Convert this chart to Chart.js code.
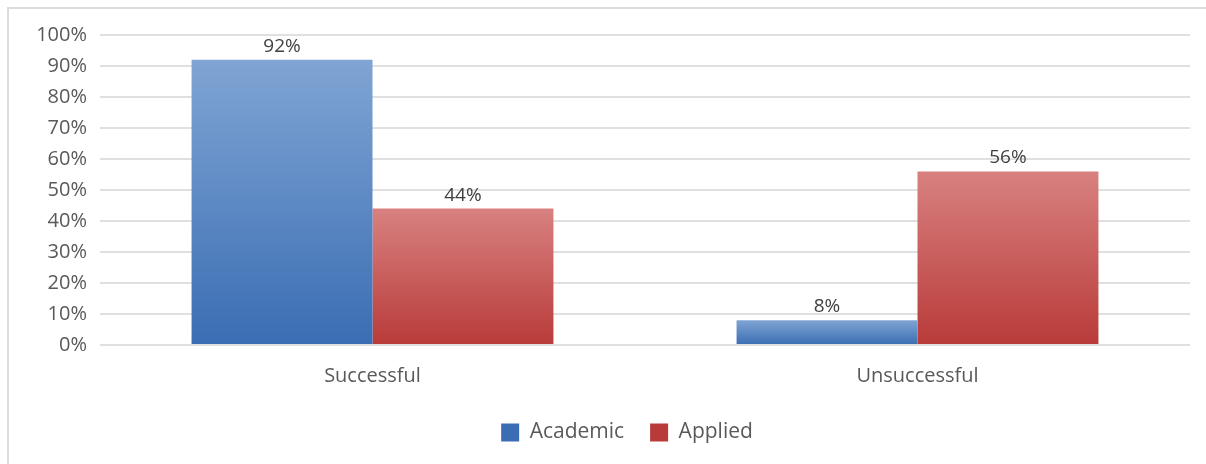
<!DOCTYPE html>
<html>
<head>
<meta charset="utf-8">
<script src="https://cdn.jsdelivr.net/npm/chart.js@4/dist/chart.umd.min.js"></script>
<style>
  html, body { margin: 0; padding: 0; background: #ffffff; }
  #wrap { width: 1206px; height: 464px; position: relative; }
</style>
</head>
<body>
<div id="wrap"><canvas id="c" width="1206" height="464"></canvas></div>
<script>
const categories = ["Successful", "Unsuccessful"];
const seriesNames = ["Academic", "Applied"];
const academicValues = [0.92, 0.08];
const appliedValues = [0.44, 0.56];
const yTickValues = [0, 0.1, 0.2, 0.3, 0.4, 0.5, 0.6, 0.7, 0.8, 0.9, 1.0];

const FONT = "'Open Sans', 'Noto Sans', sans-serif";
const TEXT = "#595959";

const palettes = [
  { top: "#80a5d4", bottom: "#3a6db3" },
  { top: "#d88180", bottom: "#b83b39" }
];

function barGradient(pal) {
  return function (ctx) {
    const chart = ctx.chart;
    const area = chart.chartArea;
    if (!area || ctx.type !== "data") return pal.bottom;
    const y = chart.scales.y;
    const v = ctx.raw;
    const top = y.getPixelForValue(v);
    const bot = y.getPixelForValue(0);
    if (!isFinite(top) || !isFinite(bot) || Math.abs(bot - top) < 1) return pal.bottom;
    const g = chart.ctx.createLinearGradient(0, top, 0, bot);
    g.addColorStop(0, pal.top);
    g.addColorStop(1, pal.bottom);
    return g;
  };
}

const framePlugin = {
  id: "frame",
  beforeDraw(chart) {
    const c = chart.ctx;
    c.save();
    c.fillStyle = "#ffffff";
    c.fillRect(0, 0, chart.width, chart.height);
    c.strokeStyle = "#dcdcdc";
    c.lineWidth = 2;
    c.beginPath();
    c.moveTo(8, chart.height);
    c.lineTo(8, 8);
    c.lineTo(chart.width, 8);
    c.stroke();
    c.restore();
  }
};

const legendShiftPlugin = {
  id: "legendShift",
  afterLayout(chart) {
    const lg = chart.legend;
    if (lg) {
      lg.left += 32;
      lg.right += 32;
      lg.top -= 1;
      lg.bottom -= 1;
    }
  }
};

const valueLabelPlugin = {
  id: "valueLabels",
  afterDatasetsDraw(chart) {
    const c = chart.ctx;
    c.save();
    c.font = "19px " + FONT;
    c.fillStyle = "#404040";
    c.textAlign = "center";
    c.textBaseline = "bottom";
    chart.data.datasets.forEach((ds, i) => {
      const meta = chart.getDatasetMeta(i);
      meta.data.forEach((bar, j) => {
        const v = ds.data[j];
        c.fillText(Math.round(v * 100) + "%", bar.x, bar.y - 4);
      });
    });
    c.restore();
  }
};

new Chart(document.getElementById("c"), {
  type: "bar",
  data: {
    labels: categories,
    datasets: [
      { label: seriesNames[0], data: academicValues, backgroundColor: barGradient(palettes[0]), borderWidth: 0 },
      { label: seriesNames[1], data: appliedValues, backgroundColor: barGradient(palettes[1]), borderWidth: 0 }
    ]
  },
  options: {
    responsive: false,
    animation: false,
    devicePixelRatio: 1,
    layout: { padding: { top: 35, right: 16, left: 0, bottom: 10 } },
    datasets: { bar: { categoryPercentage: 0.664, barPercentage: 1.0 } },
    scales: {
      x: {
        grid: { display: false },
        border: { display: false },
        ticks: { color: TEXT, font: { family: FONT, size: 20 }, padding: 11 },
        afterFit(scale) { scale.height = 52; }
      },
      y: {
        min: 0,
        max: 1,
        afterBuildTicks(scale) { scale.ticks = yTickValues.map(v => ({ value: v })); },
        grid: { color: "#e0e0e0", lineWidth: 2, drawTicks: false },
        border: { display: false },
        ticks: {
          color: TEXT,
          font: { family: FONT, size: 20 },
          padding: 13,
          callback: (v) => Math.round(v * 100) + "%"
        },
        afterFit(scale) { scale.width = 100; }
      }
    },
    plugins: {
      tooltip: { enabled: false },
      legend: {
        position: "bottom",
        labels: {
          color: TEXT,
          font: { family: FONT, size: 21 },
          boxWidth: 18,
          boxHeight: 18,
          padding: 26,
          generateLabels(chart) {
            return chart.data.datasets.map((ds, i) => ({
              text: ds.label,
              fillStyle: palettes[i].bottom,
              strokeStyle: "rgba(0,0,0,0)",
              lineWidth: 0,
              fontColor: TEXT,
              datasetIndex: i,
              hidden: false
            }));
          }
        }
      }
    }
  },
  plugins: [framePlugin, legendShiftPlugin, valueLabelPlugin]
});
</script>
</body>
</html>
